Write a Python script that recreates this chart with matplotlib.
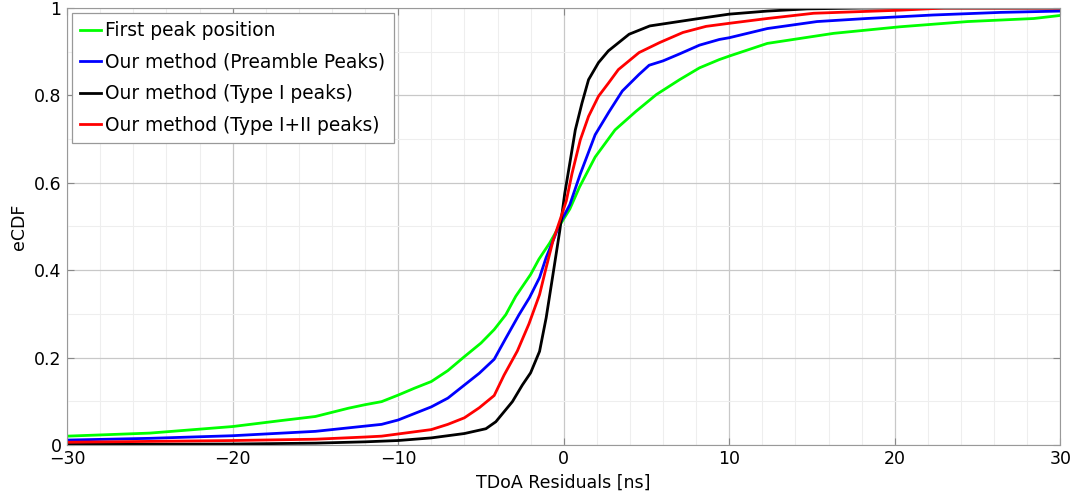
import numpy as np
import matplotlib.pyplot as plt
from matplotlib.ticker import MultipleLocator

# residuals [ns] and eCDF values
first_x = [-30, -25, -20, -17, -15, -13, -12, -11, -10, -9, -8, -7, -6, -5, -4.2, -3.5, -2.9, -2.0,
           -1.5, -0.85, -0.25, 0.37, 0.95, 1.9, 3.1, 4.35, 5.6, 7.0, 8.2, 9.4, 10, 12.3, 16.3, 20.3,
           24.4, 28.4, 30]
first_y = [0.02, 0.027, 0.042, 0.056, 0.065, 0.084, 0.092, 0.099, 0.114, 0.13, 0.145, 0.17, 0.202,
           0.233, 0.264, 0.298, 0.34, 0.39, 0.425, 0.462, 0.502, 0.54, 0.59, 0.659, 0.721, 0.763,
           0.802, 0.836, 0.863, 0.882, 0.89, 0.919, 0.942, 0.957, 0.969, 0.976, 0.983]

pre_x = [-30, -25, -20, -15, -12, -11, -10, -8, -7, -6, -5.1, -4.2, -3.5, -2.7, -2.07, -1.46, -1.06,
         -0.65, -0.24, 0.37, 1.0, 1.9, 2.73, 3.54, 4.55, 5.16, 6.0, 7.0, 8.2, 9.4, 10, 12.3, 15.3,
         18.3, 22.3, 26.4, 30]
pre_y = [0.011, 0.015, 0.021, 0.031, 0.043, 0.047, 0.057, 0.087, 0.107, 0.137, 0.164, 0.196, 0.244,
         0.298, 0.337, 0.383, 0.429, 0.467, 0.506, 0.55, 0.62, 0.71, 0.762, 0.81, 0.848, 0.869,
         0.879, 0.895, 0.915, 0.928, 0.932, 0.953, 0.969, 0.976, 0.984, 0.99, 0.993]

type1_x = [-30, -20, -15, -12, -10, -8, -6, -4.7, -4.1, -3.1, -2.5, -2.0, -1.46, -1.06, -0.65, -0.24,
           0.06, 0.4, 0.7, 1.1, 1.5, 2.1, 2.7, 3.95, 5.2, 6.6, 8.0, 10, 12.3, 14.7, 18, 30]
type1_y = [0.001, 0.002, 0.004, 0.007, 0.01, 0.016, 0.026, 0.037, 0.053, 0.099, 0.137, 0.165, 0.214,
           0.291, 0.39, 0.49, 0.575, 0.652, 0.721, 0.782, 0.836, 0.875, 0.902, 0.94, 0.959, 0.967,
           0.975, 0.986, 0.993, 0.998, 1.0, 1.0]

type12_x = [-30, -20, -15, -12, -11, -10, -8, -7, -6, -5.1, -4.2, -3.6, -2.8, -2.1, -1.46, -1.06, -0.65,
            -0.24, 0.16, 0.5, 1.0, 1.5, 2.1, 2.7, 3.3, 4.55, 5.8, 7.2, 8.6, 10, 12.3, 15.1, 20.3, 23, 30]
type12_y = [0.006, 0.01, 0.013, 0.018, 0.02, 0.025, 0.035, 0.047, 0.062, 0.085, 0.113, 0.16, 0.215,
            0.277, 0.344, 0.406, 0.467, 0.513, 0.559, 0.621, 0.698, 0.752, 0.798, 0.828, 0.859, 0.898,
            0.921, 0.944, 0.958, 0.965, 0.976, 0.988, 0.995, 1.0, 1.0]

plt.rcParams['font.family'] = 'DejaVu Sans'
plt.rcParams['font.size'] = 12.5

fig = plt.figure(figsize=(10.82, 5.01), dpi=100)
ax = fig.add_axes([0.062, 0.112, 0.918, 0.872])

ax.plot(first_x, first_y, color='#00ff00', lw=2, label='First peak position')
ax.plot(pre_x, pre_y, color='#0000ff', lw=2, label='Our method (Preamble Peaks)')
ax.plot(type1_x, type1_y, color='black', lw=2, label='Our method (Type I peaks)')
ax.plot(type12_x, type12_y, color='#ff0000', lw=2, label='Our method (Type I+II peaks)')

ax.set_xlim(-30, 30)
ax.set_ylim(0, 1)
ax.xaxis.set_major_locator(MultipleLocator(10))
ax.xaxis.set_minor_locator(MultipleLocator(2))
ax.yaxis.set_minor_locator(MultipleLocator(0.1))
ax.set_yticks([0, 0.2, 0.4, 0.6, 0.8, 1])
ax.set_yticklabels(['0', '0.2', '0.4', '0.6', '0.8', '1'])

ax.grid(which='major', color='#c8c8c8', lw=0.9)
ax.grid(which='minor', color='#eeeeee', lw=0.8)
ax.set_axisbelow(True)
ax.tick_params(which='both', direction='in', top=True, right=True, color='#888888')
ax.tick_params(which='minor', length=0)
ax.tick_params(which='major', length=5, pad=4)
for s in ax.spines.values():
    s.set_color('#999999')

ax.set_xlabel('TDoA Residuals [ns]')
ax.set_ylabel('eCDF')

leg = ax.legend(loc='upper left', fancybox=False, framealpha=1, edgecolor='#999999', fontsize=13.4,
                handlelength=1.1, handletextpad=0.25, borderaxespad=0.25, labelspacing=0.68,
                borderpad=0.45)
leg.get_frame().set_linewidth(0.9)

fig.savefig('out.png', dpi=100)
